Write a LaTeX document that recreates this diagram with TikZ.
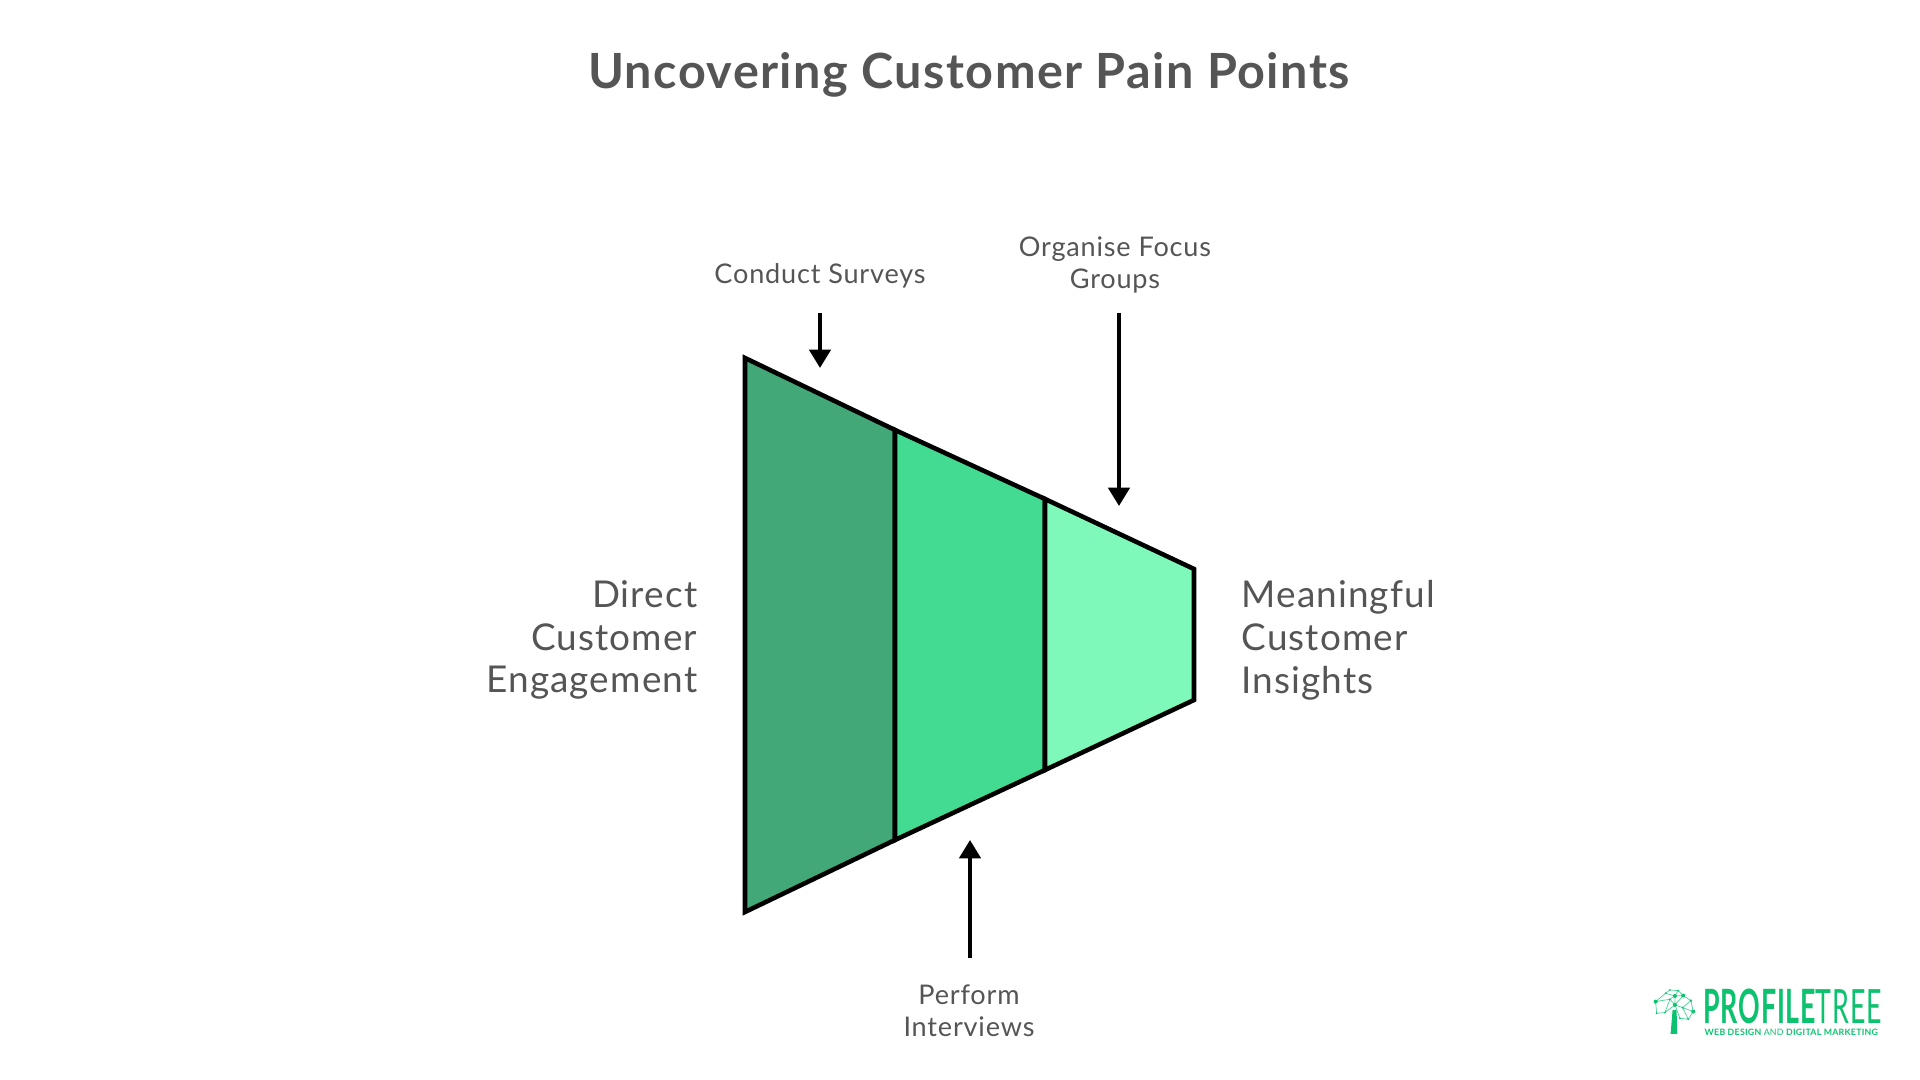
\documentclass[tikz,border=0pt]{standalone}
\usepackage{fontspec}
\usepackage{xcolor}
\usetikzlibrary{arrows.meta,positioning}
\setmainfont{Lato}[LetterSpace=3]
\definecolor{darkseg}{HTML}{43A878}
\definecolor{midseg}{HTML}{43DB92}
\definecolor{lightseg}{HTML}{7FF9B9}
\definecolor{inktext}{HTML}{555555}
\definecolor{treegreen}{HTML}{0CC26F}
\tikzset{
  segment/.style={draw=black,line width=1.3pt,line join=miter},
  smalllabel/.style={text=inktext,font=\fontsize{7.7}{9.1}\selectfont,align=center,inner sep=0pt},
  biglabel/.style={text=inktext,font=\fontsize{10.5}{12.2}\selectfont,inner sep=0pt},
  pointer/.style={-{Triangle[width=6pt,length=5.2pt]},line width=1.15pt,shorten <=7.5pt}
}
\begin{document}
\begin{tikzpicture}[x=0.01cm,y=-0.01cm]
   \useasboundingbox (0,0) rectangle (1920,1080);
   % funnel corners
   \coordinate (t_1) at (745,358);
   \coordinate (t_2) at (895,430);
   \coordinate (t_3) at (1045,499);
   \coordinate (t_4) at (1194,569);
   \coordinate (b_1) at (745,912);
   \coordinate (b_2) at (895,840);
   \coordinate (b_3) at (1045,770);
   \coordinate (b_4) at (1194,700);
   \draw[segment,fill=darkseg] (t_1) -- (t_2) -- (b_2) -- (b_1) -- cycle;
   \draw[segment,fill=midseg] (t_2) -- (t_3) -- (b_3) -- (b_2) -- cycle;
   \draw[segment,fill=lightseg] (t_3) -- (t_4) -- (b_4) -- (b_3) -- cycle;
   % labels
   \node[text=inktext,font=\fontsize{13.8}{15}\bfseries\selectfont,inner sep=0pt] (title) at (969,75) {Uncovering Customer Pain Points};
   \node[smalllabel] (surveys) at (820,276) {Conduct Surveys};
   \node[smalllabel] (groups) at (1115,265) {Organise Focus\\Groups};
   \node[smalllabel] (interviews) at (969,1011) {Perform\\Interviews};
   \node[biglabel,align=right,anchor=east] (direct) at (698,640) {Direct\\Customer\\Engagement};
   \node[biglabel,align=left,anchor=west] (insights) at (1241,640) {Meaningful\\Customer\\Insights};
   % arrows
   \coordinate (tip_1) at (820,368);
   \coordinate (tip_2) at (1119,506);
   \coordinate (tip_3) at (970,840);
    \path[pointer]
    (surveys) edge [shorten <=6.8pt] (tip_1)
    (groups.south -| tip_2) edge [shorten <=5.5pt] (tip_2)
    (interviews.north -| tip_3) edge (tip_3);
   % logo
   \begin{scope}[shift={(1620,960)},x=0.00333cm,y=-0.00333cm]
   \fill[treegreen] (158,150) -- (170,150) -- (172,222) -- (152,222) -- cycle;
   \draw[treegreen!75,line width=0.2pt]
     (107,125) -- (137,100) -- (150,90) -- (175,92) -- (190,107) -- (213,122) -- (220,155) -- (205,178)
     (107,125) -- (110,160) -- (135,158) -- (165,135) -- (188,143) -- (205,178)
     (137,100) -- (165,108) -- (190,107) (165,108) -- (150,118) -- (107,125)
     (150,118) -- (165,135) -- (165,108) (188,143) -- (213,122) (188,143) -- (220,155)
     (135,158) -- (150,118) (175,92) -- (165,108) (165,135) -- (180,175) -- (205,178) (165,135) -- (190,107);
   \foreach \nx/\ny/\nr in {107/125/6,137/100/3,150/90/3,175/92/3,190/107/6,213/122/4,220/155/6,205/178/3,165/135/6,135/158/3,110/160/3,165/108/6,188/143/3,150/118/3,180/175/3}
     \fill[treegreen] (\nx,\ny) circle (\nr);
   \end{scope}
   \node[text=treegreen,font=\fontsize{11.2}{11}\bfseries\selectfont,inner sep=0pt,anchor=west,xscale=0.68,yscale=1.2] (brand) at (1703,1006) {PROFILE\mdseries TREE};
   \node[text=treegreen,font=\fontsize{2.5}{3}\bfseries\selectfont,inner sep=0pt,anchor=west] (strap) at (1704,1032) {WEB DESIGN \mdseries AND \bfseries DIGITAL MARKETING};
\end{tikzpicture}
\end{document}
